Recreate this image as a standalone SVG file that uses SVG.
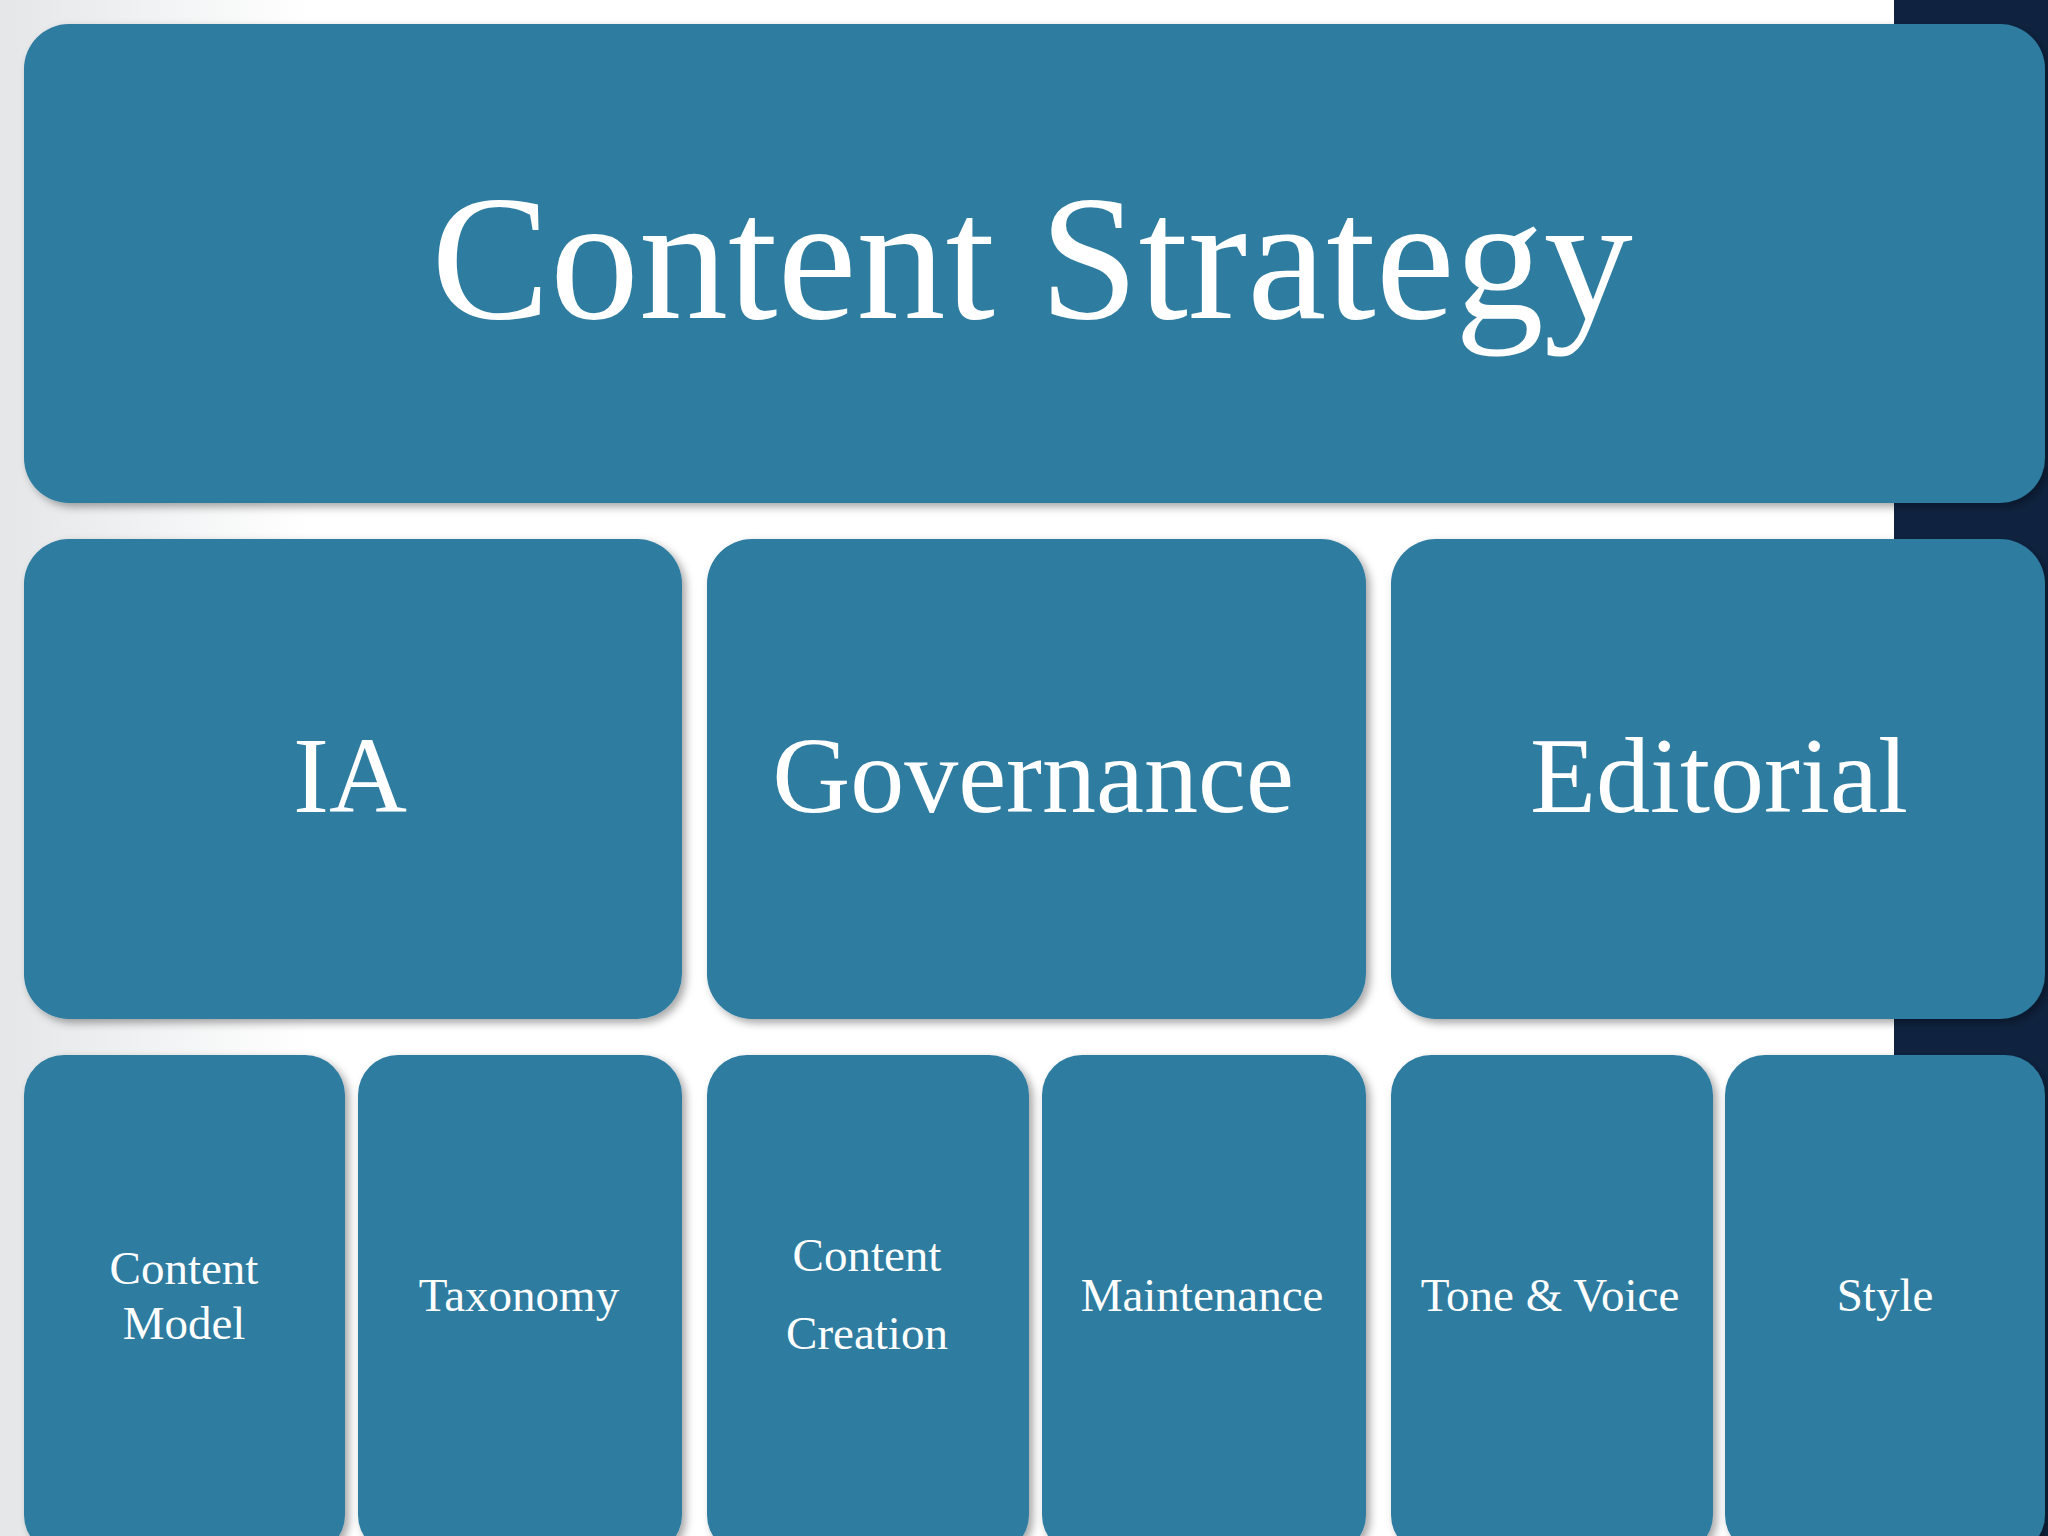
<svg xmlns="http://www.w3.org/2000/svg" width="2048" height="1536" viewBox="0 0 2048 1536">
<defs>
<linearGradient id="bg" x1="0" y1="0" x2="1" y2="0">
<stop offset="0" stop-color="#e4e6e8"/><stop offset="0.15" stop-color="#ffffff"/><stop offset="1" stop-color="#ffffff"/>
</linearGradient>
<filter id="sh" x="-5%" y="-5%" width="110%" height="110%">
<feDropShadow dx="4" dy="4" stdDeviation="4" flood-color="#000" flood-opacity="0.35"/>
</filter>
<style>
.b{fill:#2e7ba0;filter:url(#sh)}
text{fill:#fff;font-family:"Liberation Serif","DejaVu Serif",serif;text-anchor:middle}
.t{font-size:178px}.m{font-size:108px}.s{font-size:47px}
</style>
</defs>
<rect width="2048" height="1536" fill="url(#bg)"/>
<rect x="1894" y="0" width="154" height="1536" fill="#0f2340"/>
<g id="content-strategy"><rect class="b" x="24" y="24" width="2021" height="479" rx="45"/><text class="t" x="1032" y="318">Content Strategy</text></g>
<g id="ia"><rect class="b" x="24" y="539" width="658" height="480" rx="45"/><text class="m" x="350" y="812">IA</text></g>
<g id="governance"><rect class="b" x="707" y="539" width="659" height="480" rx="45"/><text class="m" x="1033" y="812">Governance</text></g>
<g id="editorial"><rect class="b" x="1391" y="539" width="654" height="480" rx="45"/><text class="m" x="1719" y="812">Editorial</text></g>
<g id="content-model"><rect class="b" x="24" y="1055" width="321" height="500" rx="40"/><text class="s" x="184" y="1284">Content</text><text class="s" x="184" y="1339">Model</text></g>
<g id="taxonomy"><rect class="b" x="358" y="1055" width="324" height="500" rx="40"/><text class="s" x="519" y="1311">Taxonomy</text></g>
<g id="content-creation"><rect class="b" x="707" y="1055" width="322" height="500" rx="40"/><text class="s" x="867" y="1271">Content</text><text class="s" x="867" y="1349">Creation</text></g>
<g id="maintenance"><rect class="b" x="1042" y="1055" width="324" height="500" rx="40"/><text class="s" x="1202" y="1311">Maintenance</text></g>
<g id="tone-voice"><rect class="b" x="1391" y="1055" width="322" height="500" rx="40"/><text class="s" x="1550" y="1311">Tone &amp; Voice</text></g>
<g id="style"><rect class="b" x="1725" y="1055" width="320" height="500" rx="40"/><text class="s" x="1885" y="1311">Style</text></g>
<g id="connectors"/>
</svg>
